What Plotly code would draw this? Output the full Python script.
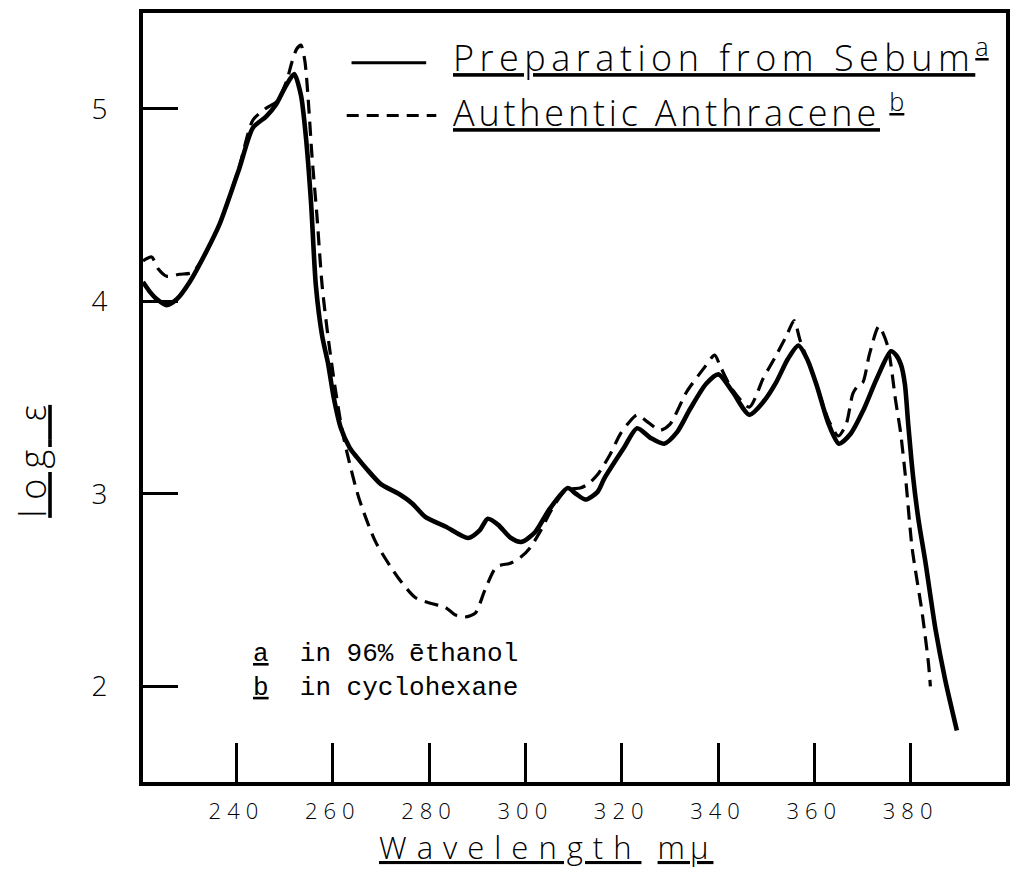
import plotly.graph_objects as go

# ---- data ----
sebum_wl = [220.6, 222.0, 223.5, 225.5, 227.6, 230.3, 233.8, 236.5, 240.6, 243.4,
            246.2, 248.2, 250.3, 252.0, 253.4, 254.4, 255.5, 256.5, 257.8, 259.0,
            260.2, 261.7, 263.5, 265.0, 267.0, 270.0, 273.7, 276.5, 279.2, 283.4,
            288.1, 290.5, 292.2, 294.3, 297.0, 299.2, 302.0, 305.0, 308.8, 310.5,
            312.5, 315.0, 316.4, 320.5, 323.2, 326.0, 328.8, 331.5, 334.2, 337.5,
            340.1, 343.0, 346.5, 349.5, 352.1, 354.5, 356.7, 358.5, 360.4, 363.0,
            365.1, 367.5, 370.1, 373.0, 375.9, 377.0, 378.0, 378.8, 379.5, 380.5,
            381.6, 383.1, 385.2, 387.2, 389.6]
sebum_log = [4.10, 4.05, 4.01, 3.98, 4.01, 4.10, 4.26, 4.40, 4.69, 4.90,
             4.96, 5.02, 5.12, 5.18, 5.07, 4.86, 4.51, 4.08, 3.82, 3.68,
             3.50, 3.34, 3.24, 3.19, 3.13, 3.05, 3.00, 2.95, 2.88, 2.83,
             2.77, 2.81, 2.87, 2.84, 2.77, 2.75, 2.80, 2.92, 3.03, 3.00,
             2.97, 3.01, 3.08, 3.24, 3.34, 3.29, 3.26, 3.32, 3.44, 3.57,
             3.62, 3.53, 3.41, 3.48, 3.58, 3.70, 3.77, 3.70, 3.57, 3.36,
             3.26, 3.31, 3.43, 3.60, 3.74, 3.72, 3.67, 3.57, 3.36, 3.09,
             2.87, 2.64, 2.29, 2.03, 1.77]

anth_wl = [220.6, 222.4, 223.7, 225.5, 228.2, 230.9, 233.8, 236.5, 240.6, 243.4,
           246.0, 248.5, 250.5, 251.5, 252.5, 253.4, 254.2, 254.9, 255.7, 256.7,
           257.8, 259.0, 260.5, 261.8, 262.9, 265.4, 268.9, 273.7, 277.2, 280.5,
           283.4, 285.5, 287.5, 289.6, 291.6, 294.0, 297.0, 299.0, 301.0, 303.2,
           305.5, 308.5, 311.4, 313.0, 315.0, 317.5, 319.7, 321.5, 323.2, 325.0,
           328.0, 330.0, 333.5, 337.0, 339.3, 340.5, 343.0, 346.5, 349.4, 352.1,
           354.2, 355.8, 357.0, 358.5, 360.4, 363.0, 365.0, 366.6, 368.0, 369.0,
           370.1, 371.4, 373.4, 375.2, 376.9, 377.9, 379.0, 380.3, 382.4, 383.7,
           384.1]
anth_log = [4.21, 4.23, 4.17, 4.13, 4.14, 4.15, 4.26, 4.40, 4.70, 4.94,
            5.00, 5.04, 5.15, 5.24, 5.31, 5.33, 5.25, 5.05, 4.75, 4.45,
            4.08, 3.82, 3.55, 3.35, 3.22, 2.98, 2.75, 2.56, 2.46, 2.43,
            2.41, 2.37, 2.36, 2.38, 2.50, 2.62, 2.64, 2.67, 2.72, 2.81,
            2.92, 3.02, 3.03, 3.05, 3.10, 3.20, 3.31, 3.37, 3.41, 3.38,
            3.33, 3.36, 3.53, 3.65, 3.72, 3.66, 3.54, 3.45, 3.60, 3.72,
            3.82, 3.90, 3.80, 3.70, 3.57, 3.38, 3.30, 3.36, 3.52, 3.56,
            3.58, 3.72, 3.87, 3.77, 3.48, 3.32, 3.07, 2.72, 2.38, 2.12,
            2.00]

x_ticks = [240, 260, 280, 300, 320, 340, 360, 380]
y_ticks = [2, 3, 4, 5]
x_range = [220.6, 399.8]
y_range = [1.503, 5.497]

series_names = ["Preparation from Sebum", "Authentic Anthracene"]
series_notes = ["a", "b"]
note_lines = ["in 96% ēthanol", "in cyclohexane"]
x_title = ["Wavelength", "mμ"]
y_title = ["log", "ε"]

HAND = "Open Sans"
TYPE = "Liberation Mono"
nb = "\u00a0"


def spaced(txt, px):
    return '<span style="letter-spacing:%gpx">%s</span>' % (px, txt)


fig = go.Figure()

fig.add_trace(go.Scatter(
    x=anth_wl, y=anth_log, mode="lines", name=series_names[1],
    line=dict(color="black", width=3.2, dash="14px,8px", shape="spline", smoothing=0.7),
    showlegend=False,
))
fig.add_trace(go.Scatter(
    x=sebum_wl, y=sebum_log, mode="lines", name=series_names[0],
    line=dict(color="black", width=4.6, shape="spline", smoothing=0.7),
    showlegend=False,
))

# legend key lines (hand-drawn key at the top right)
fig.add_shape(type="line", x0=263.9, x1=279.4, y0=5.238, y1=5.238,
              line=dict(color="black", width=3))
fig.add_shape(type="line", x0=262.9, x1=281.5, y0=4.964, y1=4.964,
              line=dict(color="black", width=3, dash="12px,8px"))

fig.add_annotation(x=284.6, y=5.275, xref="x", yref="y", xanchor="left", yanchor="middle",
                   showarrow=False,
                   text="<u>" + spaced(series_names[0], 5.5) + "</u><sup><u>" + series_notes[0] + "</u></sup>",
                   font=dict(family=HAND, size=36, color="black", weight=300))
fig.add_annotation(x=284.6, y=4.99, xref="x", yref="y", xanchor="left", yanchor="middle",
                   showarrow=False,
                   text="<u>" + spaced(series_names[1], 3.8) + "</u>" + nb + "<sup><u>" + series_notes[1] + "</u></sup>",
                   font=dict(family=HAND, size=36, color="black", weight=300))

# solvent notes
notes_text = "<br>".join(
    "<u>" + k + "</u>" + nb * 2 + t for k, t in zip(series_notes, note_lines))
fig.add_annotation(x=243.1, y=2.077, xref="x", yref="y", xanchor="left", yanchor="middle",
                   showarrow=False, align="left", text=notes_text,
                   font=dict(family=TYPE, size=26, color="black"))

# axis titles
fig.add_annotation(x=0.467, y=-0.085, xref="paper", yref="paper",
                   xanchor="center", yanchor="middle", showarrow=False,
                   text="<u>" + spaced(x_title[0], 10) + "</u>" + nb * 2 + "<u>" + spaced(x_title[1], 5) + "</u>",
                   font=dict(family=HAND, size=31, color="black", weight=300))
fig.add_annotation(x=-0.128, y=0.417, xref="paper", yref="paper",
                   xanchor="center", yanchor="middle", showarrow=False, textangle=-90,
                   text="<u>" + spaced(y_title[0], 10) + nb * 2 + y_title[1] + "</u>",
                   font=dict(family=HAND, size=36, color="black", weight=300))

axis_common = dict(showline=True, linecolor="black", linewidth=4, mirror=True,
                   ticks="inside", tickcolor="black", tickwidth=3,
                   showgrid=False, zeroline=False)

fig.update_xaxes(range=x_range, tickvals=x_ticks,
                 ticktext=[spaced(str(v), 6) for v in x_ticks],
                 ticklen=39, ticklabelstandoff=7,
                 tickfont=dict(family=HAND, size=22, color="black", weight=300),
                 **axis_common)
fig.update_yaxes(range=y_range, tickvals=y_ticks, ticklen=35,
                 ticklabelstandoff=26,
                 tickfont=dict(family=HAND, size=28, color="black", weight=300),
                 **axis_common)

# the page body adds an 8px margin, so the figure is sized to fit inside it
fig.update_layout(
    width=1003, height=861,
    margin=dict(l=135, r=1, t=2, b=87),
    paper_bgcolor="white", plot_bgcolor="white",
    showlegend=False,
)

fig.write_html("out.html")
